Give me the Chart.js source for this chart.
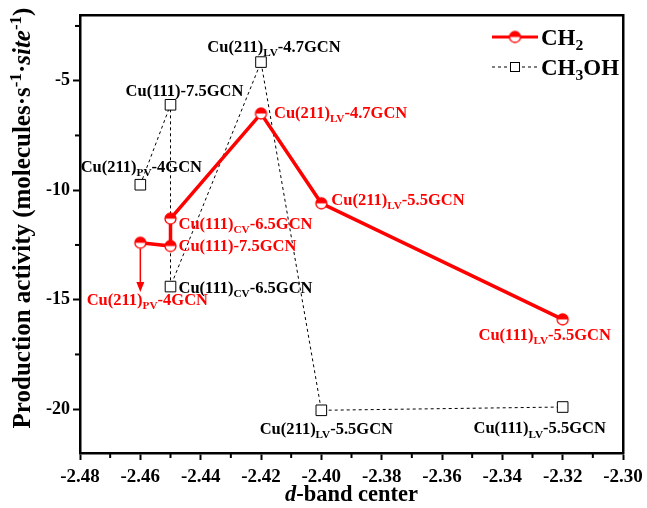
<!DOCTYPE html>
<html>
<head>
<meta charset="utf-8">
<script src="https://cdn.jsdelivr.net/npm/chart.js@4.4.1/dist/chart.umd.min.js"></script>
<style>
  html, body { margin: 0; padding: 0; background: #fff; }
  #wrap { width: 647px; height: 508px; }
</style>
</head>
<body>
<div id="wrap"><canvas id="myChart"></canvas></div>
<script>
// ---- data ----
const xTickValues = [-2.48, -2.46, -2.44, -2.42, -2.40, -2.38, -2.36, -2.34, -2.32, -2.30];
const yTickValues = [-20, -15, -10, -5];

const ch2X = [-2.46, -2.45, -2.45, -2.42, -2.40, -2.32];
const ch2Y = [-12.4, -12.55, -11.3, -6.5, -10.6, -15.9];
const ch2Labels = ['Cu(211)_{PV}-4GCN', 'Cu(111)-7.5GCN', 'Cu(111)_{CV}-6.5GCN',
                   'Cu(211)_{LV}-4.7GCN', 'Cu(211)_{LV}-5.5GCN', 'Cu(111)_{LV}-5.5GCN'];

const ch3ohX = [-2.46, -2.45, -2.45, -2.42, -2.40, -2.32];
const ch3ohY = [-9.75, -6.1, -14.4, -4.15, -20.05, -19.9];
const ch3ohLabels = ['Cu(211)_{PV}-4GCN', 'Cu(111)-7.5GCN', 'Cu(111)_{CV}-6.5GCN',
                     'Cu(211)_{LV}-4.7GCN', 'Cu(211)_{LV}-5.5GCN', 'Cu(111)_{LV}-5.5GCN'];

// red arrow under the first CH2 point
const arrowFrom = [-2.46, -12.4];
const arrowTo = [-2.46, -14.65];

// label placement: [dx, dy, align] in pixels from the point
const ch2LabelPos = [[7, 57, 'center'], [8, 0, 'left'], [8, 5, 'left'],
                     [13, -1, 'left'], [10, -4, 'left'], [-18, 15, 'center']];
const ch3ohLabelPos = [[1, -18, 'center'], [14, -14, 'center'], [8, 1, 'left'],
                       [13, -16, 'center'], [5, 18, 'center'], [-23, 21, 'center']];

const RED = '#ff0000';
const FONT = '"Liberation Serif", "Times New Roman", serif';

// ---- rich text helper: _{sub} ^{sup} *{italic} ----
function parseRich(s) {
  const out = [];
  s.split(/(_\{[^}]*\}|\^\{[^}]*\}|\*\{[^}]*\})/).forEach(p => {
    if (!p) return;
    if (p.startsWith('_{')) out.push({ t: p.slice(2, -1), k: 'sub' });
    else if (p.startsWith('^{')) out.push({ t: p.slice(2, -1), k: 'sup' });
    else if (p.startsWith('*{')) out.push({ t: p.slice(2, -1), k: 'it' });
    else out.push({ t: p, k: 'n' });
  });
  return out;
}
function fontFor(k, size) {
  const s = (k === 'sub' || k === 'sup') ? size * 0.68 : size;
  return (k === 'it' ? 'italic ' : '') + 'bold ' + s + 'px ' + FONT;
}
function drawRich(ctx, s, x, y, size, color, align) {
  const parts = parseRich(s);
  let w = 0;
  parts.forEach(p => { ctx.font = fontFor(p.k, size); p.w = ctx.measureText(p.t).width; w += p.w; });
  let cx = align === 'center' ? x - w / 2 : align === 'right' ? x - w : x;
  ctx.fillStyle = color;
  ctx.textBaseline = 'alphabetic';
  ctx.textAlign = 'left';
  const base = y + size * 0.33;
  parts.forEach(p => {
    ctx.font = fontFor(p.k, size);
    let dy = 0;
    if (p.k === 'sub') dy = size * 0.25;
    if (p.k === 'sup') dy = -size * 0.38;
    ctx.fillText(p.t, cx, base + dy);
    cx += p.w;
  });
}

// half filled circle marker
function halfCircle(r) {
  const c = document.createElement('canvas');
  const size = Math.ceil(r * 2 + 4);
  c.width = size; c.height = size;
  const g = c.getContext('2d');
  const m = size / 2;
  g.fillStyle = '#fff';
  g.beginPath(); g.arc(m, m, r, 0, Math.PI * 2); g.fill();
  g.fillStyle = RED;
  g.beginPath(); g.arc(m, m, r, Math.PI, 0); g.closePath(); g.fill();
  g.strokeStyle = RED; g.lineWidth = 1.3;
  g.beginPath(); g.arc(m, m, r, 0, Math.PI * 2); g.stroke();
  return c;
}
const redMarker = halfCircle(5.5);

// minor tick marks drawn between the major ones
const minorTicks = {
  id: 'minorTicks',
  afterDraw(chart) {
    const ctx = chart.ctx;
    const x = chart.scales.x, y = chart.scales.y;
    const L = x.left, B = y.bottom;
    ctx.save();
    ctx.fillStyle = '#000';
    for (let i = 0; i < xTickValues.length - 1; i++) {
      const mx = x.getPixelForValue((xTickValues[i] + xTickValues[i + 1]) / 2);
      ctx.fillRect(mx - 1, B, 2, 5);
    }
    yTickValues.forEach(v => {
      const my = y.getPixelForValue(v + 2.5);
      ctx.fillRect(L - 5, my - 1, 5, 2);
    });
    ctx.restore();
  }
};

const extras = {
  id: 'extras',
  afterDraw(chart) {
    const ctx = chart.ctx;
    const x = chart.scales.x, y = chart.scales.y;
    ctx.save();
    // axis titles
    drawRich(ctx, '*{d}-band center', (x.left + x.right) / 2, 494, 22.5, '#000', 'center');
    ctx.save();
    ctx.translate(22, 218);
    ctx.rotate(-Math.PI / 2);
    drawRich(ctx, 'Production activity (molecules·s^{-1}·*{site}^{-1})', 0, 0, 25, '#000', 'center');
    ctx.restore();

    // arrow
    const ax = x.getPixelForValue(arrowFrom[0]);
    const ay0 = y.getPixelForValue(arrowFrom[1]) + 6;
    const ay1 = y.getPixelForValue(arrowTo[1]);
    ctx.fillStyle = RED;
    ctx.fillRect(ax - 0.75, ay0, 1.5, ay1 - 9 - ay0);
    ctx.beginPath(); ctx.moveTo(ax - 4, ay1 - 10); ctx.lineTo(ax + 4, ay1 - 10); ctx.lineTo(ax, ay1); ctx.closePath(); ctx.fill();

    // point labels
    ch2X.forEach((v, i) => {
      const p = ch2LabelPos[i];
      drawRich(ctx, ch2Labels[i], x.getPixelForValue(v) + p[0], y.getPixelForValue(ch2Y[i]) + p[1], 16.5, RED, p[2]);
    });
    ch3ohX.forEach((v, i) => {
      const p = ch3ohLabelPos[i];
      drawRich(ctx, ch3ohLabels[i], x.getPixelForValue(v) + p[0], y.getPixelForValue(ch3ohY[i]) + p[1], 16.5, '#000', p[2]);
    });

    // legend
    const lx0 = 492, lx1 = 538, lm = 515;
    ctx.fillStyle = RED;
    ctx.fillRect(lx0, 35.5, lx1 - lx0, 3);
    ctx.drawImage(redMarker, lm - redMarker.width / 2, 37 - redMarker.height / 2);
    drawRich(ctx, 'CH_{2}', 541, 37, 23, '#000', 'left');
    ctx.fillStyle = '#000';
    for (let dx = lx0; dx < lx1; dx += 6) ctx.fillRect(dx, 66.5, 3, 1);
    ctx.fillStyle = '#fff';
    ctx.fillRect(lm - 5, 62, 10, 10);
    ctx.fillStyle = '#000';
    ctx.fillRect(lm - 5, 62, 10, 1); ctx.fillRect(lm - 5, 71, 10, 1);
    ctx.fillRect(lm - 5, 62, 1, 10); ctx.fillRect(lm + 4, 62, 1, 10);
    drawRich(ctx, 'CH_{3}OH', 541, 67, 23, '#000', 'left');
    ctx.restore();
  }
};

const axisGrid = { display: true, drawOnChartArea: false, drawTicks: true, tickLength: 7, tickWidth: 2, tickColor: '#000' };
const axisBorder = { display: true, color: '#000', width: 2.5 };

new Chart(document.getElementById('myChart'), {
  type: 'scatter',
  data: {
    datasets: [{
      label: 'CH2',
      data: ch2X.map((v, i) => ({ x: v, y: ch2Y[i] })),
      showLine: true,
      borderColor: RED,
      borderWidth: 3.5,
      pointStyle: redMarker,
      pointRadius: 6
    }, {
      label: 'CH3OH',
      data: ch3ohX.map((v, i) => ({ x: v, y: ch3ohY[i] })),
      showLine: true,
      borderColor: '#000',
      borderWidth: 1,
      borderDash: [3, 3],
      pointStyle: 'rect',
      pointRadius: 7.5,
      pointBackgroundColor: '#fff',
      pointBorderColor: '#000',
      pointBorderWidth: 1
    }]
  },
  options: {
    responsive: true,
    maintainAspectRatio: false,
    animation: false,
    layout: { padding: { top: 15, right: 24, left: 0, bottom: 0 } },
    plugins: { legend: { display: false }, tooltip: { enabled: false } },
    scales: {
      x: {
        type: 'linear',
        position: 'bottom',
        min: -2.48,
        max: -2.30,
        grid: axisGrid,
        border: axisBorder,
        afterBuildTicks: s => { s.ticks = xTickValues.map(v => ({ value: v })); },
        afterFit: s => { s.height = 55; s.paddingLeft = 0; s.paddingRight = 0; },
        ticks: {
          padding: 6,
          color: '#000',
          font: { family: FONT, size: 19, weight: 'bold' },
          callback: v => v.toFixed(2),
          maxRotation: 0,
          autoSkip: false
        }
      },
      xTop: {
        type: 'linear',
        position: 'top',
        min: -2.48,
        max: -2.30,
        grid: { display: false },
        border: axisBorder,
        ticks: { display: false },
        afterFit: s => { s.height = 0; s.paddingLeft = 0; s.paddingRight = 0; }
      },
      y: {
        position: 'left',
        min: -22,
        max: -2,
        grid: axisGrid,
        border: axisBorder,
        afterBuildTicks: s => { s.ticks = yTickValues.map(v => ({ value: v })); },
        afterFit: s => { s.width = 80; s.paddingTop = 0; s.paddingBottom = 0; },
        ticks: {
          padding: 3,
          color: '#000',
          font: { family: FONT, size: 18, weight: 'bold' },
          callback: v => String(v)
        }
      },
      yRight: {
        position: 'right',
        min: -22,
        max: -2,
        grid: { display: false },
        border: axisBorder,
        ticks: { display: false },
        afterFit: s => { s.width = 0; s.paddingTop = 0; s.paddingBottom = 0; }
      }
    }
  },
  plugins: [minorTicks, extras]
});
</script>
</body>
</html>
